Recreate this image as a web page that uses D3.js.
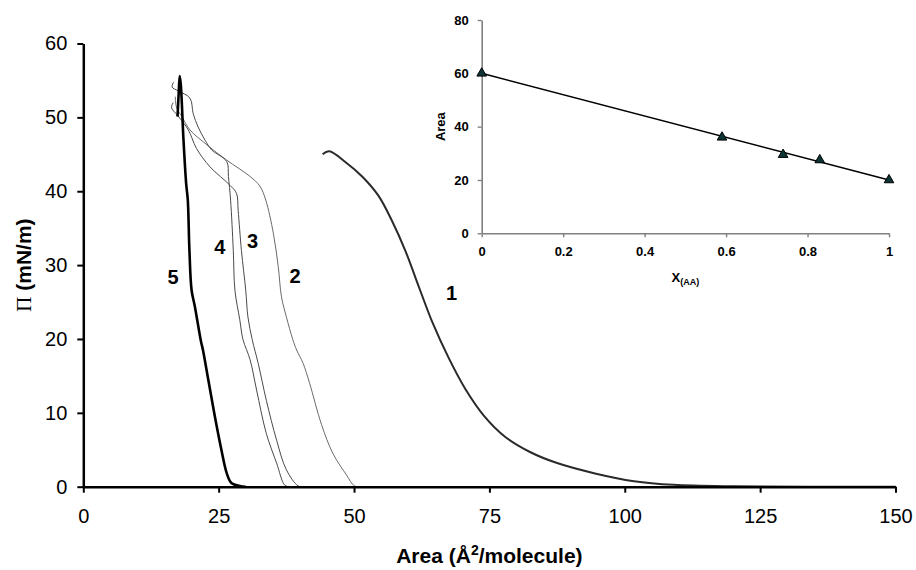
<!DOCTYPE html>
<html>
<head>
<meta charset="utf-8">
<script src="https://cdn.jsdelivr.net/npm/d3@7"></script>
<style>
    body { margin: 0; background: #fff; }
    svg { display: block; font-family: 'Liberation Sans', Arial, sans-serif; }
</style>
</head>
<body>
<svg id="isotherms" width="916" height="570"></svg>
<script>
// surface pressure isotherms, [area, pressure] pairs
var curve1 = [[44.2, 45.0], [45.4, 45.4], [48.5, 43.9], [51.5, 42.0], [54.5, 39.4], [57.0, 36.0],
    [59.5, 31.9], [62.0, 27.0], [64.5, 22.2], [67.5, 17.4], [70.5, 13.3], [74.0, 9.6], [78.0, 6.7],
    [82.5, 4.7], [87.5, 3.2], [94.5, 1.8], [101.7, 0.75], [109, 0.25], [120, 0.05], [150, 0]];
var curve2 = [[17.0, 52.8], [17.2, 51.4], [18.3, 50.0], [19.7, 48.3], [22.8, 46.3], [26.5, 44.2],
    [30.8, 42.0], [32.6, 40.7], [33.7, 38.8], [35.1, 34.3], [36.0, 29.8], [36.6, 25.7], [37.5, 23.0],
    [38.7, 19.9], [39.4, 18.5], [40.6, 16.7], [41.8, 14.0], [44.0, 8.4], [46.1, 4.5], [48.6, 1.6],
    [50.1, 0.1], [52, 0]];
var curve3 = [[16.6, 52.0], [16.3, 51.3], [17.5, 50.2], [19.4, 48.3], [20.9, 45.8], [23.4, 43.3],
    [27.1, 40.8], [28.3, 39.7], [28.6, 37.4], [29.2, 32.0], [30.0, 26.6], [30.4, 23.0], [31.2, 19.9],
    [32.3, 16.7], [33.8, 11.7], [35.7, 6.3], [37.5, 2.3], [39.7, 0.1], [41, 0]];
var curve4 = [[16.7, 54.8], [16.4, 54.1], [17.5, 53.6], [19.7, 52.6], [20.3, 50.5], [21.2, 48.7],
    [22.5, 46.9], [23.7, 45.6], [26.5, 44.0], [26.8, 42.0], [27.2, 38.8], [27.7, 32.0], [28.0, 26.6],
    [28.9, 22.6], [29.5, 19.9], [30.8, 17.2], [32.0, 13.1], [33.8, 7.2], [35.7, 3.2], [37.2, 0.2], [38, 0]];
var curve5 = [[17.4, 50.1], [17.6, 53.0], [17.8, 55.6], [18.0, 54.5], [18.5, 47.0], [19.0, 41.0],
    [19.3, 38.8], [19.6, 32.0], [20.0, 26.6], [20.6, 24.4], [21.7, 19.8], [22.1, 18.5], [23.1, 14.4],
    [24.3, 9.5], [25.5, 5.0], [26.5, 1.8], [27.4, 0.46], [28.9, 0.1], [30, 0]];

var curveNames = ['1', '2', '3', '4', '5'];
// where each number sits, in data units
var labelArea = [68.0, 39.1, 31.25, 25.2, 16.6];
var labelPressure = [26.2, 28.5, 33.3, 32.5, 28.35];

var xTicks = [0, 25, 50, 75, 100, 125, 150];
var yTicks = [0, 10, 20, 30, 40, 50, 60];

// inset: limiting area vs mole fraction
var fractionAA = [0, 0.59, 0.74, 0.83, 1];
var meanArea = [60, 36, 29.5, 27.5, 20];
var fitLine = [[0, 60], [1, 20]];
var insetXTicks = [0, 0.2, 0.4, 0.6, 0.8, 1];
var insetYTicks = [0, 20, 40, 60, 80];

var svg = d3.select('#isotherms');

var x = d3.scaleLinear().domain([0, 150]).range([83.3, 895.5]),
    y = d3.scaleLinear().domain([0, 60]).range([486.7, 43.5]);

var curves = [curve1, curve2, curve3, curve4, curve5];
var strokes = ['#2a2a2a', '#6a6a6a', '#4a4a4a', '#4a4a4a', '#000'],
    widths = [2, 1, 1, 1, 2.6];

var line = d3.line()
    .curve(d3.curveCatmullRom.alpha(0.5))
    .x(function(d) { return x(d[0]); })
    .y(function(d) { return y(d[1]); });

svg.selectAll('path.curve')
    .data(curves)
    .enter()
    .append('path')
    .attr('class', 'curve')
    .attr('d', line)
    .attr('fill', 'none')
    .attr('stroke', function(d, i) { return strokes[i]; })
    .attr('stroke-width', function(d, i) { return widths[i]; })
    .attr('stroke-linejoin', 'round');

// main axes
var xAxis = svg.append('g')
    .attr('transform', 'translate(0,' + y(0) + ')')
    .call(d3.axisBottom(x).tickValues(xTicks).tickSize(6).tickSizeOuter(0).tickPadding(16));

var yAxis = svg.append('g')
    .attr('transform', 'translate(' + x(0) + ',0)')
    .call(d3.axisLeft(y).tickValues(yTicks).tickSize(6).tickSizeOuter(0).tickPadding(10));

[xAxis, yAxis].forEach(function(g) {
    g.select('.domain').attr('stroke', '#000').attr('stroke-width', 2.5);
    g.selectAll('.tick line').attr('stroke', '#000').attr('stroke-width', 2);
    g.selectAll('.tick text')
        .attr('fill', '#000')
        .style('font-family', "'Liberation Sans', Arial, sans-serif")
        .style('font-size', '20px');
});

svg.append('text')
    .attr('x', (x(0) + x(150)) / 2)
    .attr('y', 563)
    .attr('text-anchor', 'middle')
    .style('font-size', '21px')
    .style('font-weight', 'bold')
    .text('Area (Å')
    .append('tspan')
    .attr('dy', -8)
    .style('font-size', '14px')
    .text('2')
    .select(function() { return this.parentNode; })
    .append('tspan')
    .attr('dy', 8)
    .text('/molecule)');

var yTitle = svg.append('text')
    .attr('transform', 'translate(31,' + (y(0) + y(60)) / 2 + ') rotate(-90)')
    .attr('text-anchor', 'middle')
    .style('font-size', '21px')
    .style('font-weight', 'bold');
yTitle.append('tspan')
    .style('font-family', "'Liberation Serif', 'Times New Roman', serif")
    .style('font-weight', 'normal')
    .text('Π');
yTitle.append('tspan').text(' (mN/m)');

svg.selectAll('text.curve-label')
    .data(curveNames)
    .enter()
    .append('text')
    .attr('class', 'curve-label')
    .attr('x', function(d, i) { return x(labelArea[i]); })
    .attr('y', function(d, i) { return y(labelPressure[i]); })
    .attr('text-anchor', 'middle')
    .attr('dominant-baseline', 'central')
    .style('font-size', '20px')
    .style('font-weight', 'bold')
    .text(function(d) { return d; });

// inset
var ix = d3.scaleLinear().domain([0, 1]).range([481.7, 889]),
    iy = d3.scaleLinear().domain([0, 80]).range([233.3, 20]);

var inset = svg.append('g');

var ixAxis = inset.append('g')
    .attr('transform', 'translate(0,' + iy(0) + ')')
    .call(d3.axisBottom(ix).tickValues(insetXTicks).tickFormat(d3.format('')).tickSize(4).tickSizeOuter(0).tickPadding(9));
var iyAxis = inset.append('g')
    .attr('transform', 'translate(' + ix(0) + ',0)')
    .call(d3.axisLeft(iy).tickValues(insetYTicks).tickSize(4).tickSizeOuter(0).tickPadding(9));

[ixAxis, iyAxis].forEach(function(g) {
    g.select('.domain').attr('stroke', '#808080').attr('stroke-width', 1.6);
    g.selectAll('.tick line').attr('stroke', '#808080').attr('stroke-width', 1.4);
    g.selectAll('.tick text')
        .attr('fill', '#000')
        .style('font-family', "'Liberation Sans', Arial, sans-serif")
        .style('font-size', '13px')
        .style('font-weight', 'bold');
});

inset.append('path')
    .datum(fitLine)
    .attr('d', d3.line()
        .x(function(d) { return ix(d[0]); })
        .y(function(d) { return iy(d[1]); }))
    .attr('fill', 'none')
    .attr('stroke', '#000')
    .attr('stroke-width', 1.6);

inset.selectAll('path.marker')
    .data(fractionAA)
    .enter()
    .append('path')
    .attr('class', 'marker')
    .attr('d', d3.symbol().type(d3.symbolTriangle).size(40))
    .attr('transform', function(d, i) {
        return 'translate(' + ix(d) + ',' + iy(meanArea[i]) + ')';
    })
    .attr('fill', '#0d3535')
    .attr('stroke', '#000')
    .attr('stroke-width', 1);

inset.append('text')
    .attr('transform', 'translate(440,' + iy(40) + ') rotate(-90)')
    .attr('text-anchor', 'middle')
    .attr('dominant-baseline', 'central')
    .style('font-size', '13px')
    .style('font-weight', 'bold')
    .text('Area');

var ixTitle = inset.append('text')
    .attr('x', (ix(0) + ix(1)) / 2)
    .attr('y', 282)
    .attr('text-anchor', 'middle')
    .style('font-size', '13px')
    .style('font-weight', 'bold');
ixTitle.append('tspan').text('X');
ixTitle.append('tspan')
    .attr('dy', 3)
    .style('font-size', '9px')
    .text('(AA)');
</script>
</body>
</html>
